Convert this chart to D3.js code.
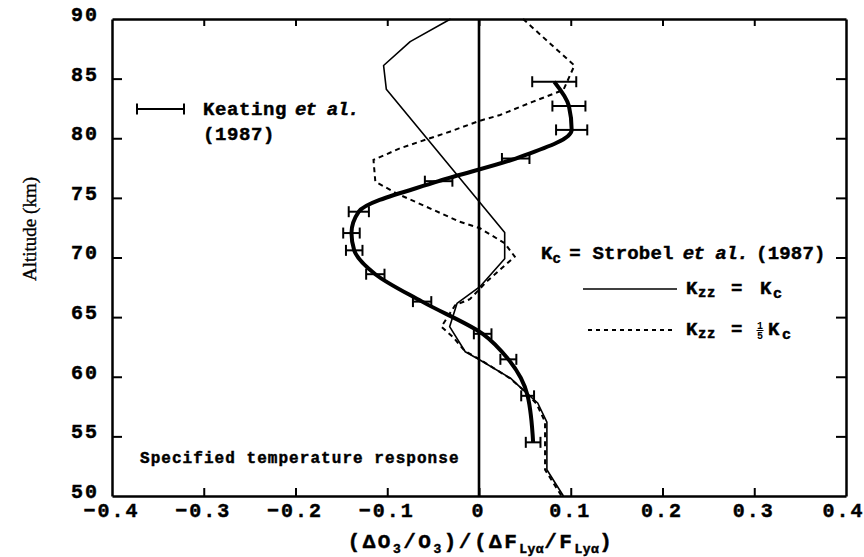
<!DOCTYPE html>
<html>
<head>
<meta charset="utf-8">
<script src="https://cdn.jsdelivr.net/npm/d3@7"></script>
<style>
  html, body { margin: 0; padding: 0; background: #fff; }
  svg { display: block; }
  text { font-family: "Liberation Mono", "Courier New", monospace; font-weight: bold; fill: #000; }
  text.heavy { stroke: #000; stroke-width: 0.45px; }
</style>
</head>
<body>
<svg id="chart" width="864" height="557"></svg>
<script>
// ---------------- data ----------------
const xTicks = [-0.4, -0.3, -0.2, -0.1, 0, 0.1, 0.2, 0.3, 0.4];
const xTickLabels = ["\u22120.4", "\u22120.3", "\u22120.2", "\u22120.1", "0", "0.1", "0.2", "0.3", "0.4"];
const yTicks = [50, 55, 60, 65, 70, 75, 80, 85, 90];
const yTickLabels = ["50", "55", "60", "65", "70", "75", "80", "85", "90"];

// Keating et al. (1987) observations with error bars
const keatingAlt = [84.74, 82.7, 80.7, 78.3, 76.4, 73.84, 72.05, 70.6, 68.6, 66.3, 63.6, 61.46, 58.4, 54.5];
const keatingVal = [0.082, 0.098, 0.101, 0.040, -0.044, -0.131, -0.139, -0.136, -0.113, -0.062, 0.004, 0.032, 0.053, 0.059];
const keatingErr = [0.024, 0.018, 0.017, 0.015, 0.015, 0.011, 0.009, 0.009, 0.010, 0.010, 0.0096, 0.0087, 0.007, 0.008];

// Model: Kzz = Kc (solid)
const solidAlt = [90, 88.1, 86.1, 84.1, 72.1, 69.9, 67.55, 66.15, 64.2, 62.1, 61.4, 59.9, 58.9, 57.8, 56.2, 52.2, 50];
const solidVal = [-0.031, -0.075, -0.104, -0.101, 0.028, 0.028, 0.001, -0.024, -0.032, -0.015, 0.001, 0.034, 0.048, 0.064, 0.074, 0.074, 0.092];

// Model: Kzz = Kc/5 (dashed)
const dashAlt = [90, 86.1, 84.05, 83.07, 81.95, 81.47, 80.55, 79.16, 78.18, 76.36, 75.38, 73.0, 72.45, 71.2, 70.07, 68.1, 66.5, 66.0, 64.2, 63.3, 62.2, 61.45, 59.9, 58.8, 57.7, 56.2, 52.2, 50];
const dashVal = [0.048, 0.104, 0.092, 0.059, 0.023, 0.001, -0.032, -0.086, -0.115, -0.113, -0.090, -0.021, 0.001, 0.028, 0.039, 0.010, -0.010, -0.026, -0.041, -0.028, -0.016, 0.001, 0.033, 0.050, 0.063, 0.072, 0.072, 0.090];

// ---------------- layout ----------------
const svg = d3.select("#chart");
const L = 112, R = 846, T = 19, B = 496;
const x = d3.scaleLinear().domain([-0.4, 0.4]).range([L, R]);
const y = d3.scaleLinear().domain([50, 90]).range([B, T]);

const AX_W = 2.5;

const gB = svg.append("g").attr("transform", `translate(0,${B})`)
  .call(d3.axisBottom(x).tickValues(xTicks).tickSizeInner(-8).tickSizeOuter(0).tickPadding(7)
    .tickFormat((d, i) => xTickLabels[i]));
const gT = svg.append("g").attr("transform", `translate(0,${T})`)
  .call(d3.axisTop(x).tickValues(xTicks).tickSizeInner(-7).tickSizeOuter(0).tickFormat(""));
const gL = svg.append("g").attr("transform", `translate(${L},0)`)
  .call(d3.axisLeft(y).tickValues(yTicks).tickSizeInner(-10).tickSizeOuter(0).tickPadding(15)
    .tickFormat((d, i) => yTickLabels[i]));
const gR = svg.append("g").attr("transform", `translate(${R},0)`)
  .call(d3.axisRight(y).tickValues(yTicks).tickSizeInner(-10).tickSizeOuter(0).tickFormat(""));

[gB, gT, gL, gR].forEach(g => {
  g.select(".domain").attr("stroke", "#000").attr("stroke-width", AX_W);
  g.selectAll(".tick line").attr("stroke", "#000").attr("stroke-width", 2);
  g.selectAll(".tick text").attr("font-size", 20).attr("letter-spacing", 2)
    .attr("font-family", "'Liberation Mono', monospace").attr("font-weight", "bold")
    .attr("class", "heavy");
});
gB.selectAll(".tick line").filter(d => d === -0.4 || d === 0.4).remove();
gT.selectAll(".tick line").filter(d => d === -0.4 || d === 0.4).remove();
gL.selectAll(".tick line").filter(d => d === 50 || d === 90).remove();
gR.selectAll(".tick line").filter(d => d === 50 || d === 90).remove();
gB.selectAll(".tick text").attr("dy", "0.71em").attr("dx", -1);
gB.selectAll(".tick text").filter(d => d === 0.4).attr("dx", -3);
gL.selectAll(".tick text").attr("dy", "0.32em").attr("transform", "translate(2,-5)");

// zero line
svg.append("line")
  .attr("x1", x(0)).attr("x2", x(0)).attr("y1", y(90)).attr("y2", y(50))
  .attr("stroke", "#000").attr("stroke-width", 2.6);

// model curves
const solidPts = solidAlt.map((a, i) => [solidVal[i], a]);
const dashPts = dashAlt.map((a, i) => [dashVal[i], a]);
const lin = d3.line().x(d => x(d[0])).y(d => y(d[1]));

svg.append("path").attr("d", lin(solidPts))
  .attr("fill", "none").attr("stroke", "#000").attr("stroke-width", 1.6).attr("stroke-linejoin", "round");
svg.append("path").attr("d", lin(dashPts))
  .attr("fill", "none").attr("stroke", "#000").attr("stroke-width", 2).attr("stroke-dasharray", "5,4");

// Keating curve
const kPts = keatingAlt.map((a, i) => [keatingVal[i], a]);
svg.append("path")
  .attr("d", d3.line().x(d => x(d[0])).y(d => y(d[1])).curve(d3.curveMonotoneY)(kPts))
  .attr("fill", "none").attr("stroke", "#000").attr("stroke-width", 4).attr("stroke-linejoin", "round");

// error bars
const CAP = 5.5;
const eb = svg.append("g").attr("stroke", "#000").attr("stroke-width", 2);
keatingAlt.forEach((a, i) => {
  const v = keatingVal[i], e = keatingErr[i];
  const yy = y(a), x0 = x(v - e), x1 = x(v + e);
  eb.append("line").attr("x1", x0).attr("x2", x1).attr("y1", yy).attr("y2", yy);
  eb.append("line").attr("x1", x0).attr("x2", x0).attr("y1", yy - CAP).attr("y2", yy + CAP);
  eb.append("line").attr("x1", x1).attr("x2", x1).attr("y1", yy - CAP).attr("y2", yy + CAP);
});

// ---------------- legends ----------------
const lg = svg.append("g").attr("stroke", "#000").attr("stroke-width", 2);
lg.append("line").attr("x1", 137).attr("x2", 184).attr("y1", 109).attr("y2", 109);
lg.append("line").attr("x1", 137).attr("x2", 137).attr("y1", 103.5).attr("y2", 114.5);
lg.append("line").attr("x1", 184).attr("x2", 184).attr("y1", 103.5).attr("y2", 114.5);

const t1 = svg.append("text").attr("class", "heavy").attr("x", 203).attr("y", 115).attr("font-size", 19).attr("letter-spacing", 0.6);
t1.append("tspan").text("Keating");
t1.append("tspan").attr("dx", 8).attr("font-style", "italic").attr("letter-spacing", -0.8).text("et al.");
svg.append("text").attr("class", "heavy").attr("x", 203).attr("y", 140).attr("font-size", 19).attr("letter-spacing", 0.6).text("(1987)");

// Strobel legend
const t2 = svg.append("text").attr("class", "heavy").attr("x", 541).attr("y", 259).attr("font-size", 19).attr("letter-spacing", 0.2);
t2.append("tspan").text("K");
t2.append("tspan").attr("font-size", 14).attr("dy", 4).text("c");
t2.append("tspan").attr("dy", -4).attr("dx", 8).text("= Strobel");
t2.append("tspan").attr("dx", 9).attr("font-style", "italic").attr("letter-spacing", -0.5).text("et al.");
t2.append("tspan").attr("dx", 8).text("(1987)");

function kzzLabel(yBase) {
  svg.append("text").attr("class", "heavy").attr("x", 686).attr("y", yBase).attr("font-size", 19).text("K");
  svg.append("text").attr("class", "heavy").attr("x", 698).attr("y", yBase + 3).attr("font-size", 14)
    .attr("letter-spacing", 0.5).text("zz");
  svg.append("text").attr("class", "heavy").attr("x", 731).attr("y", yBase).attr("font-size", 19).text("=");
}

svg.append("line").attr("x1", 583).attr("x2", 677).attr("y1", 289).attr("y2", 289)
  .attr("stroke", "#000").attr("stroke-width", 1.6);
kzzLabel(294);
svg.append("text").attr("class", "heavy").attr("x", 760).attr("y", 294).attr("font-size", 19).text("K");
svg.append("text").attr("class", "heavy").attr("x", 773).attr("y", 298).attr("font-size", 15).text("c");

svg.append("line").attr("x1", 588).attr("x2", 675).attr("y1", 330).attr("y2", 330)
  .attr("stroke", "#000").attr("stroke-width", 2).attr("stroke-dasharray", "4,4");
kzzLabel(335);
svg.append("text").attr("x", 760).attr("y", 329).attr("font-size", 10).attr("text-anchor", "middle").text("1");
svg.append("line").attr("x1", 756.5).attr("x2", 763.5).attr("y1", 330.5).attr("y2", 330.5)
  .attr("stroke", "#000").attr("stroke-width", 1);
svg.append("text").attr("x", 760).attr("y", 338.5).attr("font-size", 10).attr("text-anchor", "middle").text("5");
svg.append("text").attr("class", "heavy").attr("x", 768).attr("y", 335).attr("font-size", 19).text("K");
svg.append("text").attr("class", "heavy").attr("x", 782).attr("y", 339).attr("font-size", 15).text("c");

// note
svg.append("text").attr("class", "heavy").attr("x", 140).attr("y", 463).attr("font-size", 16).attr("letter-spacing", 1.05)
  .text("Specified temperature response");

// ---------------- axis titles ----------------
const xl = svg.append("text").attr("class", "heavy").attr("x", 481).attr("y", 548).attr("text-anchor", "middle")
  .attr("font-size", 21).attr("letter-spacing", 2.5);
xl.append("tspan").text("(\u0394O");
xl.append("tspan").attr("font-size", 13).attr("dy", 5).text("3");
xl.append("tspan").attr("dy", -5).text("/O");
xl.append("tspan").attr("font-size", 13).attr("dy", 5).text("3");
xl.append("tspan").attr("dy", -5).text(")/(\u0394F");
xl.append("tspan").attr("font-size", 13).attr("dy", 5).attr("letter-spacing", 0.5).text("Ly\u03b1");
xl.append("tspan").attr("dy", -5).text("/F");
xl.append("tspan").attr("font-size", 13).attr("dy", 5).attr("letter-spacing", 0.5).text("Ly\u03b1");
xl.append("tspan").attr("dy", -5).text(")");

svg.append("text")
  .attr("transform", "translate(36,229) rotate(-90)")
  .attr("text-anchor", "middle")
  .style("font-family", "'Liberation Serif', 'Times New Roman', serif")
  .style("font-weight", "normal")
  .style("stroke", "#000").style("stroke-width", "0.35px")
  .attr("font-size", 19)
  .text("Altitude (km)");
</script>
</body>
</html>
